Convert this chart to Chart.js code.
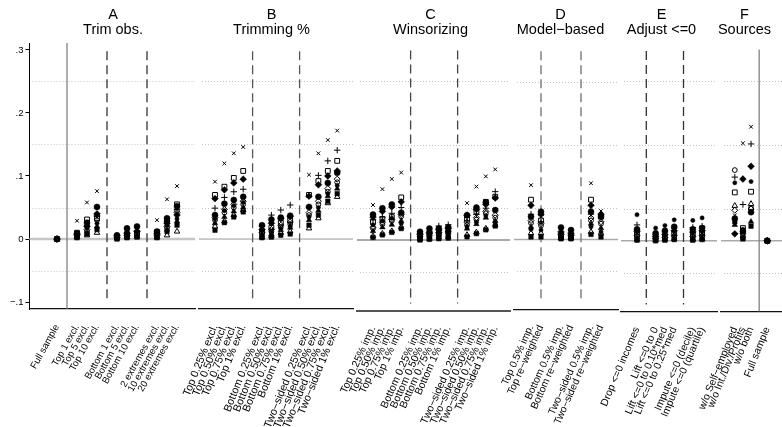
<!DOCTYPE html>
<html>
<head>
<meta charset="utf-8">
<script src="https://cdn.jsdelivr.net/npm/chart.js@4.4.1/dist/chart.umd.min.js"></script>
<style>
  html, body { margin: 0; padding: 0; background: #fff; overflow: hidden; }
  #wrap { position: relative; width: 782px; height: 427px; overflow: hidden; background: #fff; }
  #wrap canvas { position: absolute; top: 0; }
</style>
</head>
<body>
<div id="wrap"></div>
<script>
// ---- categories and their slots on each panel's axis ----
const catsA = ['Full sample', 'Top 1 excl.', 'Top 5 excl.', 'Top 10 excl.', 'Bottom 1 excl.', 'Bottom 5 excl.', 'Bottom 10 excl.', '2 extremes excl.', '10 extremes excl.', '20 extremes excl.'];
const posA = [1, 3, 4, 5, 7, 8, 9, 11, 12, 13];
const catsB = ['Top 0.25% excl.', 'Top 0.50% excl.', 'Top 0.75% excl.', 'Top 1% excl.', 'Bottom 0.25% excl.', 'Bottom 0.50% excl.', 'Bottom 0.75% excl.', 'Bottom 1% excl.', 'Two−sided 0.25% excl.', 'Two−sided 0.50% excl.', 'Two−sided 0.75% excl.', 'Two−sided 1% excl.'];
const posB = [1, 2, 3, 4, 6, 7, 8, 9, 11, 12, 13, 14];
const catsC = ['Top 0.25% imp.', 'Top 0.50% imp.', 'Top 0.75% imp.', 'Top 1% imp.', 'Bottom 0.25% imp.', 'Bottom 0.50% imp.', 'Bottom 0.75% imp.', 'Bottom 1% imp.', 'Two−sided 0.25% imp.', 'Two−sided 0.50% imp.', 'Two−sided 0.75% imp.', 'Two−sided 1% imp.'];
const posC = [1, 2, 3, 4, 6, 7, 8, 9, 11, 12, 13, 14];
const catsD = ['Top 0.5% imp.', 'Top re−weighted', 'Bottom 0.5% imp.', 'Bottom re−weighted', 'Two−sided 0.5% imp.', 'Two−sided re−weighted'];
const posD = [1, 2, 4, 5, 7, 8];
const catsE = ['Drop <=0 incomes', 'Lift <=0 to 0', 'Lift <=0 to 0.10*med', 'Lift <=0 to 0.25*med', 'Impute <=0 (decile)', 'Impute <=0 (quartile)'];
const posE = [1, 3, 4, 5, 7, 8];
const catsF = ['w/o Self−employed', 'w/o Int./Div./Profits', 'w/o both', 'Full sample'];
const posF = [1, 2, 3, 5];

// ---- y axis ticks ----
const yTicks = [-0.1, 0, 0.1, 0.2, 0.3];
const yTickLabels = ['−.1', '0', '.1', '.2', '.3'];
const dottedLevels = [-0.05, 0.05, 0.15, 0.25];

// ---- series values, panels A | B | C | D | E | F in order ----
const s1 = [0, .029, .058, .076, .004, .012, .016, .030, .063, .084,
  .091, .120, .136, .146, .010, .015, .020, .024, .102, .136, .157, .172,
  .055, .080, .096, .106, .008, .012, .015, .017, .058, .084, .100, .111,
  .086, .036, .006, .004, .089, .045,
  .012, .004, .006, .010, .008, .010,
  .040, .153, .179, 0];
const s2 = [0, .010, .031, .033, .003, .008, .010, .011, .030, .055,
  .070, .083, .097, .108, .012, .018, .026, .030, .070, .092, .108, .124,
  .028, .033, .036, .067, .005, .008, .010, .012, .034, .045, .060, .068,
  .063, .030, .004, .003, .063, .036,
  .010, .005, .007, .012, .010, .012,
  .076, .020, .077, 0];
const s3 = [0, .008, .022, .036, .002, .010, .013, .009, .028, .047,
  .049, .066, .075, .079, .020, .038, .046, .054, .050, .101, .124, .141,
  .032, .036, .042, .051, .010, .014, .022, .024, .030, .040, .050, .076,
  .040, .028, .010, .008, .040, .034,
  .025, .010, .014, .020, .021, .023,
  .100, .057, .152, 0];
const s4 = [0, .007, .020, .040, .005, .009, .012, .008, .025, .038,
  .064, .078, .089, .095, .015, .025, .032, .036, .068, .086, .100, .108,
  .036, .045, .052, .060, .009, .012, .016, .018, .039, .048, .056, .066,
  .054, .040, .012, .010, .054, .040,
  .015, .007, .010, .016, .014, .016,
  .011, .097, .117, 0];
const s5 = [0, .009, .026, .051, .006, .017, .020, .012, .033, .052,
  .038, .056, .062, .067, .022, .031, .034, .037, .051, .067, .089, .105,
  .040, .050, .056, .043, .013, .018, .018, .020, .039, .051, .059, .047,
  .036, .044, .019, .015, .044, .037,
  .018, .012, .016, .022, .018, .020,
  .035, .015, .045, 0];
const s6 = [0, .005, .015, .038, .003, .006, .008, .006, .020, .042,
  .034, .047, .055, .060, .010, .015, .022, .027, .042, .060, .080, .095,
  .020, .028, .032, .040, .006, .010, .012, .014, .028, .035, .045, .039,
  .030, .025, .008, .006, .034, .028,
  .008, .004, .005, .008, .007, .008,
  .048, .012, .050, 0];
const s7 = [0, .004, .012, .030, .002, .005, .007, .005, .018, .045,
  .030, .042, .050, .055, .008, .012, .019, .024, .038, .055, .075, .090,
  .018, .025, .030, .037, .004, .007, .010, .012, .024, .032, .042, .035,
  .026, .022, .007, .005, .030, .025,
  .006, .003, .004, .007, .006, .007,
  .111, .010, .052, 0];
const s8 = [0, .003, .006, .010, .001, .003, .004, .003, .006, .012,
  .020, .028, .038, .046, .003, .005, .010, .012, .017, .033, .057, .067,
  .006, .010, .014, .020, .001, .002, .004, .005, .008, .012, .018, .024,
  .010, .010, .002, .002, .012, .010,
  .002, .001, .002, .003, .002, .003,
  .055, .008, .058, 0];
const s9 = [0, .004, .010, .020, .001, .004, .006, .004, .015, .028,
  .025, .035, .044, .050, .006, .008, .014, .018, .030, .045, .068, .080,
  .014, .020, .024, .030, .003, .005, .007, .008, .018, .025, .035, .030,
  .020, .040, .005, .004, .025, .018,
  .005, .002, .003, .005, .004, .005,
  .025, .005, .030, 0];
const s10 = [0, .002, .008, .015, .000, .002, .003, .002, .012, .022,
  .014, .026, .035, .043, .002, .003, .006, .008, .022, .038, .060, .072,
  .004, .008, .012, .018, .000, .001, .002, .003, .005, .010, .016, .022,
  .004, .004, .001, .001, .008, .004,
  .001, .000, .001, .002, .001, .002,
  .030, .003, .023, 0];
const s11 = [0, .006, .018, .025, .004, .014, .018, .010, .022, .032,
  .032, .045, .053, .058, .005, .010, .016, .020, .035, .050, .072, .085,
  .024, .030, .034, .026, .007, .009, .011, .013, .021, .028, .038, .028,
  .016, .015, .003, .003, .020, .012,
  .041, .020, .024, .033, .032, .036,
  .091, .018, .093, 0];

// ---- marker look of each series (first entry is drawn on top) ----
const NONE = 'rgba(0,0,0,0)';
const seriesList = [
  { values: s1, style: 'crossRot', r: 2.6, fill: NONE, bw: 1 },
  { values: s2, style: 'rect', r: 3.4, fill: NONE, bw: 1 },
  { values: s3, style: 'cross', r: 3.2, fill: NONE, bw: 1 },
  { values: s7, style: 'circle', r: 2.4, fill: NONE, bw: 1 },
  { values: s6, style: 'rectRot', r: 3.0, fill: NONE, bw: 1 },
  { values: s8, style: 'triangle', r: 3.2, fill: NONE, bw: 1 },
  { values: s4, style: 'rectRot', r: 3.4, fill: '#000', bw: 0.5 },
  { values: s5, style: 'circle', r: 3.0, fill: '#000', bw: 0.5 },
  { values: s9, style: 'triangle', r: 3.2, fill: '#000', bw: 0.5 },
  { values: s10, style: 'rect', r: 3.2, fill: '#000', bw: 0.5 },
  { values: s11, style: 'circle', r: 2.1, fill: '#000', bw: 0.5 }
];

// ---- panel frames ----
const Y_MIN = -0.111, Y_MAX = 0.311;
const panels = [
  { title: ['A', 'Trim obs.'], cats: catsA, pos: posA, start: 0,
    left: 0, width: 226, padL: 29.5, padR: 31, xmin: -1.75, xmax: 14.8, top: 43, bottom: 309, rot: 61, fs: 9.6, yAxis: true,
    solid: [2], solidFromTop: false, dashed: [6, 10], dashColor: '#333', dashW: 1.3,
    zeroColor: '#c6c6c6', zeroW: 2.5, axisColor: '#111', axisW: 1.2 },
  { title: ['B', 'Trimming %'], cats: catsB, pos: posB, start: 10,
    left: 175, width: 193, padL: 24, padR: 15, xmin: -0.702, xmax: 15.68, top: 43, bottom: 309, rot: 68, fs: 10.8,
    solid: [], dashed: [5, 10], dashColor: '#555', dashW: 1.3,
    zeroColor: '#999', zeroW: 1, axisColor: '#111', axisW: 1.2 },
  { title: ['C', 'Winsorizing'], cats: catsC, pos: posC, start: 22,
    left: 335, width: 191, padL: 22, padR: 16, xmin: -0.702, xmax: 15.57, top: 42.2, bottom: 310.6, rot: 66, fs: 10.5,
    solid: [], dashed: [5, 10], dashColor: '#444', dashW: 1.3,
    zeroColor: '#aaa', zeroW: 2, axisColor: '#555', axisW: 2 },
  { title: ['D', 'Model−based'], cats: catsD, pos: posD, start: 34,
    left: 490, width: 141, padL: 24, padR: 13, xmin: -0.7, xmax: 9.7, top: 43, bottom: 309.6, rot: 66, fs: 10.2,
    solid: [], dashed: [2, 6], dashColor: '#888', dashW: 1.6,
    zeroColor: '#aaa', zeroW: 1.5, axisColor: '#111', axisW: 1.2 },
  { title: ['E', 'Adjust <=0'], cats: catsE, pos: posE, start: 40,
    left: 590, width: 143, padL: 31, padR: 16, xmin: -0.72, xmax: 9.6, top: 42.6, bottom: 311.6, rot: 67, fs: 10.4,
    solid: [], dashed: [2, 6], dashColor: '#333', dashW: 1.3,
    zeroColor: '#aaa', zeroW: 1.5, axisColor: '#111', axisW: 1.2 },
  { title: ['F', 'Sources'], cats: catsF, pos: posF, start: 46,
    left: 690, width: 109, padL: 31, padR: 0, xmin: -0.698, xmax: 8.37, top: 42.6, bottom: 311.6, rot: 68, fs: 10.4,
    solid: [4], solidFromTop: true, dashed: [], dashColor: '#444', dashW: 1.2,
    zeroColor: '#aaa', zeroW: 1.5, axisColor: '#111', axisW: 1.2 }
];

Chart.defaults.font.family = "'Liberation Sans', Arial, Helvetica, sans-serif";
Chart.defaults.color = '#000';

// reference lines: dotted levels, zero line and the group separators
function guidesFor(p) {
  return {
    id: 'guides',
    beforeDatasetsDraw(chart) {
      const { ctx, chartArea: a } = chart;
      const x = chart.scales.x, y = chart.scales.y;
      ctx.save();
      ctx.strokeStyle = '#c4c4c4';
      ctx.lineWidth = 1;
      ctx.setLineDash([1, 2]);
      dottedLevels.forEach(v => {
        const py = Math.round(y.getPixelForValue(v)) + 0.5;
        ctx.beginPath(); ctx.moveTo(a.left + 3, py); ctx.lineTo(a.right, py); ctx.stroke();
      });
      ctx.setLineDash([]);
      ctx.strokeStyle = p.zeroColor;
      ctx.lineWidth = p.zeroW;
      const zy = y.getPixelForValue(0);
      ctx.beginPath(); ctx.moveTo(a.left, zy); ctx.lineTo(a.right, zy); ctx.stroke();

      ctx.strokeStyle = '#777';
      ctx.lineWidth = 1.2;
      p.solid.forEach(v => {
        const px = x.getPixelForValue(v);
        const y0 = p.solidFromTop ? y.getPixelForValue(0.3) : a.top;
        ctx.beginPath(); ctx.moveTo(px, y0); ctx.lineTo(px, a.bottom); ctx.stroke();
      });
      ctx.strokeStyle = p.dashColor;
      ctx.lineWidth = p.dashW;
      ctx.setLineDash([9, 5]);
      p.dashed.forEach(v => {
        const px = x.getPixelForValue(v);
        ctx.beginPath(); ctx.moveTo(px, y.getPixelForValue(0.298)); ctx.lineTo(px, y.getPixelForValue(-0.1)); ctx.stroke();
      });
      ctx.restore();
    }
  };
}

const wrap = document.getElementById('wrap');
panels.forEach(p => {
  const cv = document.createElement('canvas');
  cv.width = p.width; cv.height = 427;
  cv.style.left = p.left + 'px';
  cv.style.width = p.width + 'px'; cv.style.height = '427px';
  wrap.appendChild(cv);

  const datasets = seriesList.map(s => ({
    data: p.pos.map((pos, i) => ({ x: pos, y: s.values[p.start + i] })),
    pointStyle: s.style,
    pointRadius: s.r,
    pointHoverRadius: s.r,
    pointBackgroundColor: s.fill,
    pointBorderColor: '#000',
    pointBorderWidth: s.bw,
    showLine: false,
    clip: false
  }));

  const yScale = p.yAxis ? {
    type: 'linear', min: Y_MIN, max: Y_MAX, position: 'left',
    afterBuildTicks: sc => { sc.ticks = yTicks.map(v => ({ value: v })); },
    ticks: { callback: (v, i) => yTickLabels[i], font: { size: 9.5 }, color: '#000', padding: 2 },
    grid: { display: true, drawOnChartArea: false, drawTicks: true, tickLength: 4, color: '#000', tickColor: '#000', lineWidth: 1 },
    border: { display: true, color: '#000', width: 1 },
    afterFit: sc => { sc.width = p.padL; }
  } : {
    type: 'linear', min: Y_MIN, max: Y_MAX, position: 'left', display: true,
    ticks: { display: false }, grid: { display: false }, border: { display: false },
    afterFit: sc => { sc.width = p.padL; }
  };

  const scales = {
    x: {
      type: 'linear', min: p.xmin, max: p.xmax, position: 'bottom',
      afterBuildTicks: sc => { sc.ticks = p.pos.map(v => ({ value: v })); },
      ticks: {
        autoSkip: false, minRotation: p.rot, maxRotation: p.rot,
        callback: (v, i) => p.cats[i],
        font: { size: p.fs, lineHeight: 1 }, color: '#000', padding: 6
      },
      grid: { display: false },
      border: { display: true, color: p.axisColor, width: p.axisW },
      afterFit: sc => { sc.height = 427 - p.bottom; }
    },
    y: yScale
  };
  if (p.padR > 0) {
    scales.yr = {
      type: 'linear', position: 'right', display: true,
      ticks: { display: false }, grid: { display: false }, border: { display: false },
      afterFit: sc => { sc.width = p.padR; }
    };
  }

  new Chart(cv, {
    type: 'scatter',
    data: { datasets },
    options: {
      responsive: false,
      animation: false,
      events: [],
      layout: { padding: 0 },
      scales,
      plugins: {
        legend: { display: false },
        tooltip: { enabled: false },
        title: {
          display: true, text: p.title, align: 'center', fullSize: true, color: '#000',
          font: { size: 14.5, weight: 'normal', lineHeight: 15 / 14.5 },
          padding: { top: 7.2, bottom: p.top - 30 - 7.2 }
        }
      }
    },
    plugins: [guidesFor(p)]
  });
});
</script>
</body>
</html>
